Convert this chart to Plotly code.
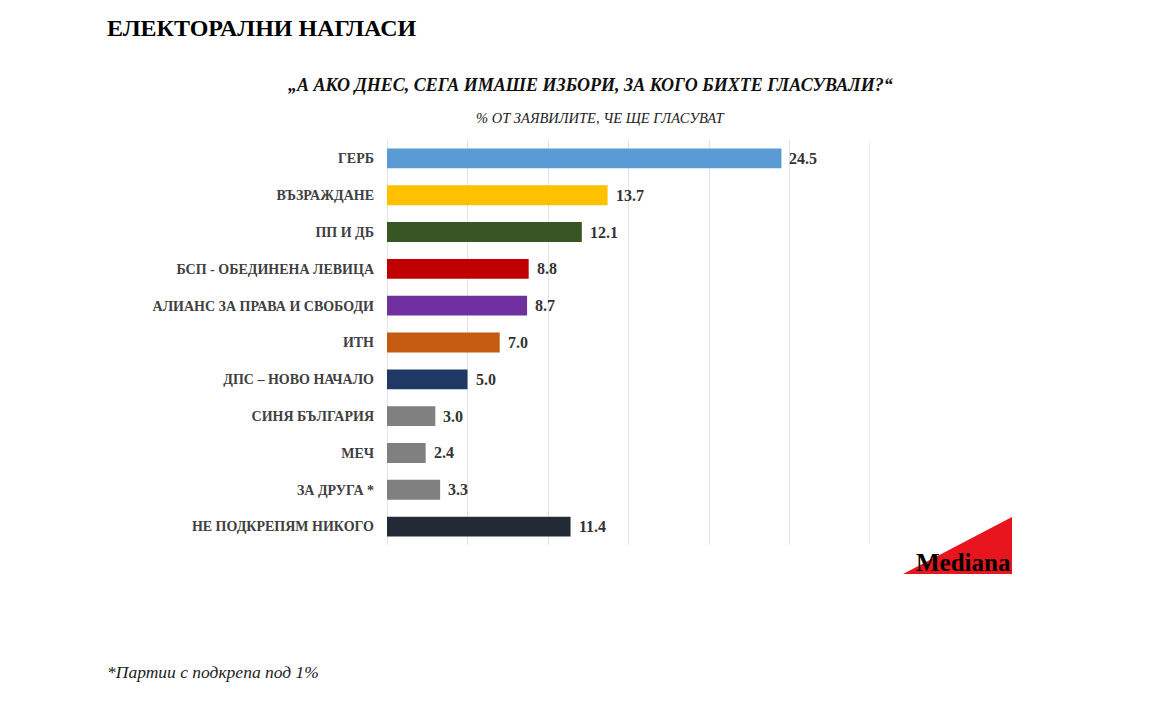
import plotly.graph_objects as go

parties = ["ГЕРБ", "ВЪЗРАЖДАНЕ", "ПП И ДБ", "БСП - ОБЕДИНЕНА ЛЕВИЦА",
           "АЛИАНС ЗА ПРАВА И СВОБОДИ", "ИТН", "ДПС – НОВО НАЧАЛО",
           "СИНЯ БЪЛГАРИЯ", "МЕЧ", "ЗА ДРУГА *", "НЕ ПОДКРЕПЯМ НИКОГО"]
values = [24.5, 13.7, 12.1, 8.8, 8.7, 7.0, 5.0, 3.0, 2.4, 3.3, 11.4]
colors = ["#5B9BD5", "#FFC000", "#375623", "#C00000", "#7030A0", "#C55A11",
          "#1F3864", "#808080", "#808080", "#808080", "#222A35"]
x_max = 30

title = "ЕЛЕКТОРАЛНИ НАГЛАСИ"
question = "„А АКО ДНЕС, СЕГА ИМАШЕ ИЗБОРИ, ЗА КОГО БИХТЕ ГЛАСУВАЛИ?“"
subtitle = "% ОТ ЗАЯВИЛИТЕ, ЧЕ ЩЕ ГЛАСУВАТ"
footnote = "*Партии с подкрепа под 1%"
logo = "Mediana"

W, H = 1152, 720
OFF = 8  # page offset of the plot div
L, R, T, B = 387, 870, 140, 545  # target screen pixels of plot area

def px(x):
    return (x - L) / (R - L)

def py(y):
    return (B - y) / (B - T)

SERIF = "Liberation Serif, Times New Roman, serif"
GRID = "#E4E4E4"

fig = go.Figure(go.Bar(
    x=values, y=parties, orientation="h",
    marker=dict(color=colors, line=dict(width=0)),
    width=0.54,
    hoverinfo="x+y",
))

for p, v in zip(parties, values):
    fig.add_annotation(x=v, y=p, xref="x", yref="y", text=f"{v:.1f}",
                       xanchor="left", yanchor="middle", xshift=6, showarrow=False,
                       font=dict(family=SERIF, size=16, color="#333333", weight="bold"))

fig.update_layout(
    width=W, height=H,
    margin=dict(l=L - OFF, r=W - R + OFF, t=T - OFF, b=H - B + OFF),
    paper_bgcolor="white", plot_bgcolor="white",
    showlegend=False,
    xaxis=dict(range=[0, x_max], dtick=5, showgrid=True, gridcolor=GRID,
               gridwidth=1, showticklabels=False, zeroline=True,
               zerolinecolor=GRID, zerolinewidth=1, showline=False,
               fixedrange=True),
    yaxis=dict(autorange="reversed", showgrid=False, showline=False,
               tickfont=dict(family=SERIF, size=14, color="#404040", weight="bold"),
               ticks="", ticklabelstandoff=12, fixedrange=True),
    font=dict(family=SERIF),
)

# closing gridline at the end of the value axis
fig.add_shape(type="line", xref="x", yref="paper", x0=x_max, x1=x_max, y0=0, y1=1,
              line=dict(color=GRID, width=1), layer="below")

fig.add_annotation(text=title, xref="paper", yref="paper", x=px(105), y=py(28),
                   xanchor="left", yanchor="middle", showarrow=False,
                   font=dict(family=SERIF, size=24, color="black", weight="bold"))
fig.add_annotation(text=question, xref="paper", yref="paper", x=px(590), y=py(85),
                   xanchor="center", yanchor="middle", showarrow=False,
                   font=dict(family=SERIF, size=18, color="#111111", weight="bold",
                             style="italic"))
fig.add_annotation(text=subtitle, xref="paper", yref="paper", x=px(600), y=py(118),
                   xanchor="center", yanchor="middle", showarrow=False,
                   font=dict(family=SERIF, size=14.5, color="#222222", style="italic"))
fig.add_annotation(text=footnote, xref="paper", yref="paper", x=px(105), y=py(672),
                   xanchor="left", yanchor="middle", showarrow=False,
                   font=dict(family=SERIF, size=17.5, color="#222222", style="italic"))

# Mediana logo
fig.add_shape(type="path", xref="paper", yref="paper",
              path=f"M {px(903)} {py(574)} L {px(1012)} {py(517)} L {px(1012)} {py(574)} Z",
              fillcolor="#E8141E", line=dict(width=0), layer="above")
fig.add_annotation(text=logo, xref="paper", yref="paper", x=px(1013), y=py(578),
                   xanchor="right", yanchor="bottom", showarrow=False,
                   font=dict(family=SERIF, size=25, color="black", weight="bold"))

fig.write_html("out.html")
